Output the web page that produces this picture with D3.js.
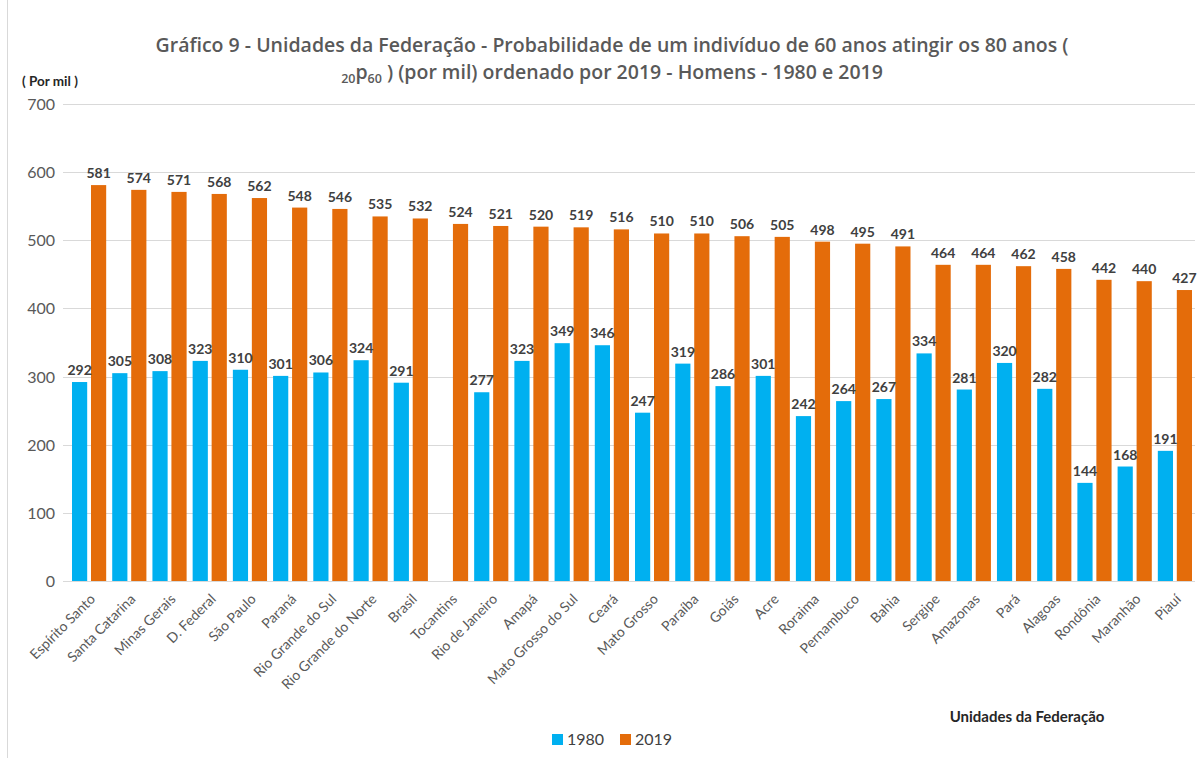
<!DOCTYPE html>
<meta charset="utf-8">
<style>
body { margin: 0; background: #fff; }
text { font-family: Lato, "Open Sans", sans-serif; }
.grid line { stroke: #d9d9d9; stroke-width: 1px; }
.ylab { font-size: 16px; fill: #595959; }
.xlab { font-size: 14px; fill: #595959; }
.val { font-size: 14px; font-weight: bold; fill: #404040; }
.ttl { font-family: "Open Sans", sans-serif; font-size: 19.5px; font-weight: 600; fill: #595959; }
</style>
<body>
<div id="chart"></div>
<script src="https://d3js.org/d3.v7.min.js"></script>
<script>
// categories, ordered by 2019
var ufs = ["Espírito Santo", "Santa Catarina", "Minas Gerais", "D. Federal", "São Paulo", "Paraná",
  "Rio Grande do Sul", "Rio Grande do Norte", "Brasil", "Tocantins", "Rio de Janeiro", "Amapá",
  "Mato Grosso do Sul", "Ceará", "Mato Grosso", "Paraíba", "Goiás", "Acre", "Roraima", "Pernambuco",
  "Bahia", "Sergipe", "Amazonas", "Pará", "Alagoas", "Rondônia", "Maranhão", "Piauí"];

var v1980 = [292, 305, 308, 323, 310, 301, 306, 324, 291, null, 277, 323, 349, 346, 247, 319, 286, 301,
  242, 264, 267, 334, 281, 320, 282, 144, 168, 191];
var v2019 = [581, 574, 571, 568, 562, 548, 546, 535, 532, 524, 521, 520, 519, 516, 510, 510, 506, 505,
  498, 495, 491, 464, 464, 462, 458, 442, 440, 427];

var years = ["1980", "2019"];
var yTicks = [0, 100, 200, 300, 400, 500, 600, 700];
var colors = {"1980": "#00b0f0", "2019": "#e46c0a"};

var width = 1200, height = 758;

var svg = d3.select("#chart").append("svg")
  .attr("width", width)
  .attr("height", height);

// light frame on the left, like the chart area border
svg.append("line")
  .attr("x1", 7.5).attr("x2", 7.5)
  .attr("y1", 0).attr("y2", height)
  .attr("stroke", "#d9d9d9");

var y = d3.scaleLinear().domain([0, 700]).range([581, 104]);

var x0 = d3.scaleBand().domain(ufs).range([72, 1192]).paddingInner(0.15);
var x1 = d3.scaleBand().domain(years).range([0, x0.bandwidth()]).paddingInner(0.2);

// gridlines
svg.append("g").attr("class", "grid")
  .selectAll("line").data(yTicks).enter().append("line")
  .attr("x1", 63).attr("x2", 1195)
  .attr("y1", function(d) { return Math.round(y(d)) + 0.5; })
  .attr("y2", function(d) { return Math.round(y(d)) + 0.5; });

// y tick labels
svg.append("g").selectAll("text").data(yTicks).enter().append("text")
  .attr("class", "ylab")
  .attr("x", 55)
  .attr("y", function(d) { return y(d) + 6; })
  .attr("text-anchor", "end")
  .text(function(d) { return d; });

// bars
var rows = ufs.map(function(u, i) {
  return {uf: u, vals: [{k: "1980", v: v1980[i]}, {k: "2019", v: v2019[i]}]};
});

var grp = svg.append("g").selectAll("g").data(rows).enter().append("g")
  .attr("transform", function(d) { return "translate(" + x0(d.uf) + ",0)"; });

var cells = grp.selectAll("g").data(function(d) {
  return d.vals.filter(function(e) { return e.v != null; });
}).enter();

cells.append("rect")
  .attr("x", function(d) { return x1(d.k); })
  .attr("width", x1.bandwidth())
  .attr("y", function(d) { return y(d.v); })
  .attr("height", function(d) { return y(0) - y(d.v); })
  .attr("fill", function(d) { return colors[d.k]; });

cells.append("text")
  .attr("class", "val")
  .attr("x", function(d) { return x1(d.k) + x1.bandwidth() / 2; })
  .attr("y", function(d) { return y(d.v) - 7; })
  .attr("text-anchor", "middle")
  .text(function(d) { return d.v; });

// x labels, rotated
svg.append("g").selectAll("text").data(ufs).enter().append("text")
  .attr("class", "xlab")
  .attr("text-anchor", "end")
  .attr("transform", function(d) {
    return "translate(" + (x0(d) + x0.bandwidth() / 2 + 7) + ",600) rotate(-45)";
  })
  .text(function(d) { return d; });

// title
svg.append("text")
  .attr("class", "ttl")
  .attr("x", 612).attr("y", 52)
  .attr("text-anchor", "middle")
  .text("Gráfico 9 - Unidades da Federação - Probabilidade de um indivíduo de 60 anos atingir os 80 anos (");

var t2 = svg.append("text")
  .attr("class", "ttl")
  .attr("x", 612).attr("y", 79)
  .attr("text-anchor", "middle");
t2.append("tspan").attr("dy", 4).style("font-size", "12.5px").text("20");
t2.append("tspan").attr("dy", -4).text("p");
t2.append("tspan").attr("dy", 4).style("font-size", "12.5px").text("60");
t2.append("tspan").attr("dy", -4).text(" ) (por mil) ordenado por 2019 - Homens - 1980 e 2019");

svg.append("text")
  .attr("x", 22).attr("y", 86)
  .style("font-size", "13.5px").style("font-weight", "bold").style("fill", "#262626")
  .text("( Por mil )");

svg.append("text")
  .attr("x", 1027).attr("y", 722)
  .attr("text-anchor", "middle")
  .style("font-size", "15px").style("font-weight", "bold").style("fill", "#262626")
  .text("Unidades da Federação");

// legend
var leg = svg.append("g").selectAll("g").data(years).enter().append("g")
  .attr("transform", function(d, i) { return "translate(" + (552 + i * 68) + ",734)"; });
leg.append("rect").attr("width", 11).attr("height", 11)
  .attr("fill", function(d) { return colors[d]; });
leg.append("text").attr("x", 15).attr("y", 11)
  .style("font-size", "16px").style("fill", "#404040")
  .text(function(d) { return d; });
</script>
</body>
